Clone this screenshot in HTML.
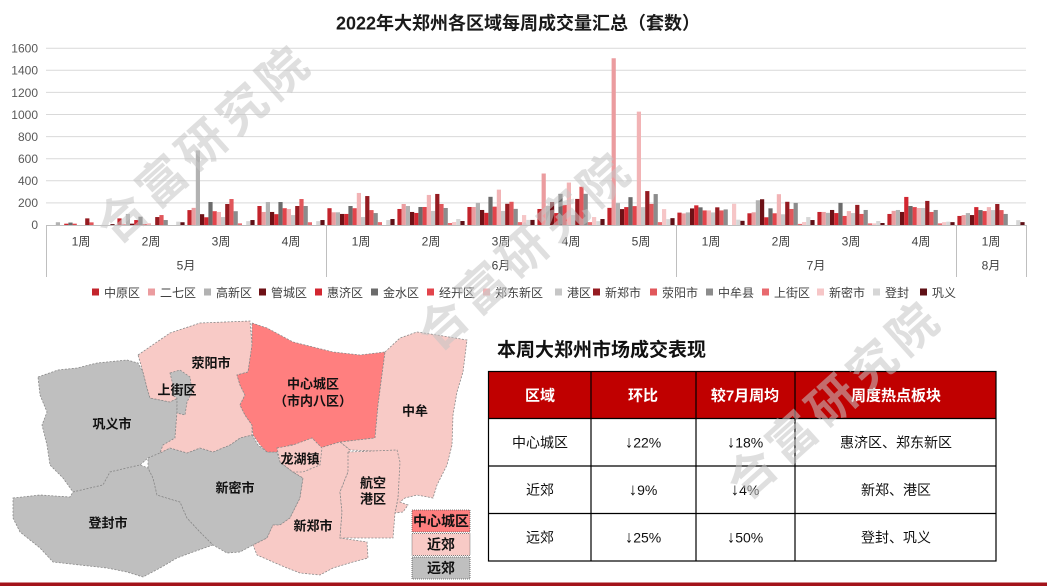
<!DOCTYPE html>
<html><head><meta charset="utf-8"><style>
html,body{margin:0;padding:0;background:#fff;}
svg{display:block;}
text{font-family:"Liberation Sans","Noto Sans CJK SC",sans-serif;}
.yl{font-size:12px;fill:#595959;text-anchor:end;}
.xl{font-size:12px;fill:#404040;text-anchor:middle;}
.lg{font-size:12px;fill:#404040;}
.ml{font-size:13px;font-weight:bold;fill:#111;text-anchor:middle;}
.th{font-size:15px;font-weight:bold;fill:#fff;text-anchor:middle;}
.td{font-size:14px;fill:#111;text-anchor:middle;}
.ar{font-size:17px;font-weight:bold;}
.wm{font-size:48px;font-weight:bold;fill:#c4c4c4;fill-opacity:0.55;text-anchor:middle;letter-spacing:6px;font-family:"Noto Sans CJK SC","WenQuanYi Zen Hei",sans-serif;}
.c0{fill:#c3242c}.c1{fill:#eb9c9f}.c2{fill:#b2b2b2}.c3{fill:#6e1116}.c4{fill:#d22630}.c5{fill:#6b6b6b}.c6{fill:#e2444b}.c7{fill:#f2b3b5}
.c8{fill:#c6c6c6}.c9{fill:#951b21}.c10{fill:#e1575b}.c11{fill:#8c8c8c}.c12{fill:#e8696e}.c13{fill:#f6c6c7}.c14{fill:#d6d6d6}.c15{fill:#5f1016}
.reg{stroke:#8a8a8a;stroke-width:0.8;stroke-dasharray:2,1.5;}
</style></head><body>
<svg width="1047" height="586" viewBox="0 0 1047 586" xmlns="http://www.w3.org/2000/svg">
<rect width="1047" height="586" fill="#fff"/>
<text x="518" y="29.5" font-size="18" font-weight="bold" fill="#1a1a1a" text-anchor="middle">2022年大郑州各区域每周成交量汇总（套数）</text>
<g stroke="#d9d9d9" stroke-width="1">
<line x1="46" x2="1026" y1="202.9" y2="202.9"/><line x1="46" x2="1026" y1="180.8" y2="180.8"/>
<line x1="46" x2="1026" y1="158.7" y2="158.7"/><line x1="46" x2="1026" y1="136.6" y2="136.6"/>
<line x1="46" x2="1026" y1="114.5" y2="114.5"/><line x1="46" x2="1026" y1="92.4" y2="92.4"/>
<line x1="46" x2="1026" y1="70.3" y2="70.3"/><line x1="46" x2="1026" y1="48.2" y2="48.2"/>
</g>
<g class="yl">
<text x="38" y="229">0</text><text x="38" y="207">200</text><text x="38" y="185">400</text><text x="38" y="163">600</text>
<text x="38" y="141">800</text><text x="38" y="119">1000</text><text x="38" y="97">1200</text><text x="38" y="74.5">1400</text><text x="38" y="52.5">1600</text>
</g>
<g class="c0" transform="translate(47.4,225) scale(1,-0.1105)"><rect x="70" width="4.2" height="60"/><rect x="140" width="4.2" height="135"/><rect x="210" width="4.2" height="172"/><rect x="280" width="4.2" height="152"/><rect x="350" width="4.2" height="145"/><rect x="420" width="4.2" height="163"/><rect x="490" width="4.2" height="145"/><rect x="560" width="4.2" height="155"/><rect x="630" width="4.2" height="112"/><rect x="700" width="4.2" height="106"/><rect x="770" width="4.2" height="118"/><rect x="840" width="4.2" height="100"/><rect x="910" width="4.2" height="82"/></g>
<g class="c1" transform="translate(51.6,225) scale(1,-0.1105)"><rect x="70" width="4.2" height="10"/><rect x="140" width="4.2" height="155"/><rect x="210" width="4.2" height="118"/><rect x="280" width="4.2" height="115"/><rect x="350" width="4.2" height="190"/><rect x="420" width="4.2" height="163"/><rect x="490" width="4.2" height="466"/><rect x="560" width="4.2" height="1509"/><rect x="630" width="4.2" height="105"/><rect x="700" width="4.2" height="115"/><rect x="770" width="4.2" height="118"/><rect x="840" width="4.2" height="128"/><rect x="910" width="4.2" height="90"/></g>
<g class="c2" transform="translate(55.8,225) scale(1,-0.1105)"><rect x="0" width="4.2" height="25"/><rect x="70" width="4.2" height="100"/><rect x="140" width="4.2" height="675"/><rect x="210" width="4.2" height="208"/><rect x="280" width="4.2" height="115"/><rect x="350" width="4.2" height="172"/><rect x="420" width="4.2" height="200"/><rect x="490" width="4.2" height="172"/><rect x="560" width="4.2" height="198"/><rect x="630" width="4.2" height="114"/><rect x="700" width="4.2" height="224"/><rect x="770" width="4.2" height="110"/><rect x="840" width="4.2" height="136"/><rect x="910" width="4.2" height="108"/></g>
<g class="c3" transform="translate(60,225) scale(1,-0.1105)"><rect x="70" width="4.2" height="12"/><rect x="140" width="4.2" height="98"/><rect x="210" width="4.2" height="118"/><rect x="280" width="4.2" height="100"/><rect x="350" width="4.2" height="118"/><rect x="420" width="4.2" height="136"/><rect x="490" width="4.2" height="208"/><rect x="560" width="4.2" height="144"/><rect x="630" width="4.2" height="150"/><rect x="700" width="4.2" height="233"/><rect x="770" width="4.2" height="136"/><rect x="840" width="4.2" height="118"/><rect x="910" width="4.2" height="90"/></g>
<g class="c4" transform="translate(64.2,225) scale(1,-0.1105)"><rect x="0" width="4.2" height="12"/><rect x="70" width="4.2" height="45"/><rect x="140" width="4.2" height="70"/><rect x="210" width="4.2" height="98"/><rect x="280" width="4.2" height="100"/><rect x="350" width="4.2" height="109"/><rect x="420" width="4.2" height="110"/><rect x="490" width="4.2" height="108"/><rect x="560" width="4.2" height="162"/><rect x="630" width="4.2" height="178"/><rect x="700" width="4.2" height="70"/><rect x="770" width="4.2" height="108"/><rect x="840" width="4.2" height="254"/><rect x="910" width="4.2" height="162"/></g>
<g class="c5" transform="translate(68.4,225) scale(1,-0.1105)"><rect x="0" width="4.2" height="22"/><rect x="70" width="4.2" height="75"/><rect x="140" width="4.2" height="208"/><rect x="210" width="4.2" height="208"/><rect x="280" width="4.2" height="172"/><rect x="350" width="4.2" height="163"/><rect x="420" width="4.2" height="255"/><rect x="490" width="4.2" height="282"/><rect x="560" width="4.2" height="252"/><rect x="630" width="4.2" height="160"/><rect x="700" width="4.2" height="151"/><rect x="770" width="4.2" height="200"/><rect x="840" width="4.2" height="172"/><rect x="910" width="4.2" height="135"/></g>
<g class="c6" transform="translate(72.6,225) scale(1,-0.1105)"><rect x="0" width="4.2" height="12"/><rect x="70" width="4.2" height="8"/><rect x="140" width="4.2" height="125"/><rect x="210" width="4.2" height="152"/><rect x="280" width="4.2" height="152"/><rect x="350" width="4.2" height="163"/><rect x="420" width="4.2" height="166"/><rect x="490" width="4.2" height="182"/><rect x="560" width="4.2" height="171"/><rect x="630" width="4.2" height="132"/><rect x="700" width="4.2" height="106"/><rect x="770" width="4.2" height="82"/><rect x="840" width="4.2" height="162"/><rect x="910" width="4.2" height="126"/></g>
<g class="c7" transform="translate(76.8,225) scale(1,-0.1105)"><rect x="70" width="4.2" height="15"/><rect x="140" width="4.2" height="118"/><rect x="210" width="4.2" height="145"/><rect x="280" width="4.2" height="290"/><rect x="350" width="4.2" height="272"/><rect x="420" width="4.2" height="320"/><rect x="490" width="4.2" height="384"/><rect x="560" width="4.2" height="1026"/><rect x="630" width="4.2" height="132"/><rect x="700" width="4.2" height="279"/><rect x="770" width="4.2" height="126"/><rect x="840" width="4.2" height="154"/><rect x="910" width="4.2" height="162"/></g>
<g class="c8" transform="translate(81,225) scale(1,-0.1105)"><rect x="140" width="4.2" height="72"/><rect x="210" width="4.2" height="90"/><rect x="280" width="4.2" height="72"/><rect x="350" width="4.2" height="127"/><rect x="420" width="4.2" height="127"/><rect x="490" width="4.2" height="90"/><rect x="560" width="4.2" height="162"/><rect x="630" width="4.2" height="114"/><rect x="700" width="4.2" height="97"/><rect x="770" width="4.2" height="108"/><rect x="840" width="4.2" height="154"/><rect x="910" width="4.2" height="135"/></g>
<g class="c9" transform="translate(85.2,225) scale(1,-0.1105)"><rect x="0" width="4.2" height="60"/><rect x="70" width="4.2" height="72"/><rect x="140" width="4.2" height="190"/><rect x="210" width="4.2" height="172"/><rect x="280" width="4.2" height="262"/><rect x="350" width="4.2" height="281"/><rect x="420" width="4.2" height="192"/><rect x="490" width="4.2" height="236"/><rect x="560" width="4.2" height="307"/><rect x="630" width="4.2" height="160"/><rect x="700" width="4.2" height="210"/><rect x="770" width="4.2" height="182"/><rect x="840" width="4.2" height="218"/><rect x="910" width="4.2" height="190"/></g>
<g class="c10" transform="translate(89.4,225) scale(1,-0.1105)"><rect x="0" width="4.2" height="24"/><rect x="70" width="4.2" height="90"/><rect x="140" width="4.2" height="235"/><rect x="210" width="4.2" height="235"/><rect x="280" width="4.2" height="135"/><rect x="350" width="4.2" height="190"/><rect x="420" width="4.2" height="210"/><rect x="490" width="4.2" height="346"/><rect x="560" width="4.2" height="191"/><rect x="630" width="4.2" height="132"/><rect x="700" width="4.2" height="145"/><rect x="770" width="4.2" height="100"/><rect x="840" width="4.2" height="118"/><rect x="910" width="4.2" height="135"/></g>
<g class="c11" transform="translate(93.6,225) scale(1,-0.1105)"><rect x="70" width="4.2" height="45"/><rect x="140" width="4.2" height="125"/><rect x="210" width="4.2" height="172"/><rect x="280" width="4.2" height="108"/><rect x="350" width="4.2" height="154"/><rect x="420" width="4.2" height="146"/><rect x="490" width="4.2" height="282"/><rect x="560" width="4.2" height="280"/><rect x="630" width="4.2" height="141"/><rect x="700" width="4.2" height="200"/><rect x="770" width="4.2" height="136"/><rect x="840" width="4.2" height="136"/><rect x="910" width="4.2" height="100"/></g>
<g class="c12" transform="translate(97.8,225) scale(1,-0.1105)"><rect x="140" width="4.2" height="15"/><rect x="210" width="4.2" height="25"/><rect x="280" width="4.2" height="26"/><rect x="350" width="4.2" height="18"/><rect x="420" width="4.2" height="26"/><rect x="490" width="4.2" height="26"/><rect x="560" width="4.2" height="26"/><rect x="700" width="4.2" height="10"/><rect x="770" width="4.2" height="15"/><rect x="840" width="4.2" height="15"/></g>
<g class="c13" transform="translate(102,225) scale(1,-0.1105)"><rect x="350" width="4.2" height="27"/><rect x="420" width="4.2" height="90"/><rect x="490" width="4.2" height="72"/><rect x="560" width="4.2" height="144"/><rect x="630" width="4.2" height="192"/><rect x="700" width="4.2" height="27"/><rect x="770" width="4.2" height="15"/><rect x="840" width="4.2" height="26"/></g>
<g class="c14" transform="translate(106.2,225) scale(1,-0.1105)"><rect x="70" width="4.2" height="30"/><rect x="140" width="4.2" height="35"/><rect x="210" width="4.2" height="35"/><rect x="280" width="4.2" height="45"/><rect x="350" width="4.2" height="54"/><rect x="420" width="4.2" height="46"/><rect x="490" width="4.2" height="35"/><rect x="560" width="4.2" height="53"/><rect x="630" width="4.2" height="48"/><rect x="700" width="4.2" height="72"/><rect x="770" width="4.2" height="36"/><rect x="840" width="4.2" height="30"/><rect x="910" width="4.2" height="44"/></g>
<g class="c15" transform="translate(110.4,225) scale(1,-0.1105)"><rect x="0" width="4.2" height="8"/><rect x="70" width="4.2" height="25"/><rect x="140" width="4.2" height="45"/><rect x="210" width="4.2" height="45"/><rect x="280" width="4.2" height="54"/><rect x="350" width="4.2" height="36"/><rect x="420" width="4.2" height="46"/><rect x="490" width="4.2" height="54"/><rect x="560" width="4.2" height="62"/><rect x="630" width="4.2" height="38"/><rect x="700" width="4.2" height="45"/><rect x="770" width="4.2" height="18"/><rect x="840" width="4.2" height="26"/><rect x="910" width="4.2" height="26"/></g>
<g stroke="#bfbfbf" stroke-width="1">
<line x1="46" x2="1026" y1="225.5" y2="225.5"/>
<line x1="46.5" x2="46.5" y1="225" y2="277"/><line x1="326.5" x2="326.5" y1="225" y2="277"/>
<line x1="676.5" x2="676.5" y1="225" y2="277"/><line x1="956.5" x2="956.5" y1="225" y2="277"/>
<line x1="1026.5" x2="1026.5" y1="225" y2="277"/>
</g>
<g class="xl">
<text x="81" y="245.5">1周</text><text x="151" y="245.5">2周</text><text x="221" y="245.5">3周</text><text x="291" y="245.5">4周</text>
<text x="361" y="245.5">1周</text><text x="431" y="245.5">2周</text><text x="501" y="245.5">3周</text><text x="571" y="245.5">4周</text><text x="641" y="245.5">5周</text>
<text x="711" y="245.5">1周</text><text x="781" y="245.5">2周</text><text x="851" y="245.5">3周</text><text x="921" y="245.5">4周</text>
<text x="991" y="245.5">1周</text>
<text x="186" y="269.5">5月</text><text x="501" y="269.5">6月</text><text x="816" y="269.5">7月</text><text x="991" y="269.5">8月</text>
</g>
<g>
<rect class="c0" x="92" y="288.5" width="7" height="7"/><text class="lg" x="104" y="297">中原区</text>
<rect class="c1" x="148" y="288.5" width="7" height="7"/><text class="lg" x="160" y="297">二七区</text>
<rect class="c2" x="204" y="288.5" width="7" height="7"/><text class="lg" x="216" y="297">高新区</text>
<rect class="c3" x="259" y="288.5" width="7" height="7"/><text class="lg" x="271" y="297">管城区</text>
<rect class="c4" x="315" y="288.5" width="7" height="7"/><text class="lg" x="327" y="297">惠济区</text>
<rect class="c5" x="371" y="288.5" width="7" height="7"/><text class="lg" x="383" y="297">金水区</text>
<rect class="c6" x="427" y="288.5" width="7" height="7"/><text class="lg" x="439" y="297">经开区</text>
<rect class="c7" x="483" y="288.5" width="7" height="7"/><text class="lg" x="495" y="297">郑东新区</text>
<rect class="c8" x="555" y="288.5" width="7" height="7"/><text class="lg" x="567" y="297">港区</text>
<rect class="c9" x="593" y="288.5" width="7" height="7"/><text class="lg" x="605" y="297">新郑市</text>
<rect class="c10" x="650" y="288.5" width="7" height="7"/><text class="lg" x="662" y="297">荥阳市</text>
<rect class="c11" x="706" y="288.5" width="7" height="7"/><text class="lg" x="718" y="297">中牟县</text>
<rect class="c12" x="762" y="288.5" width="7" height="7"/><text class="lg" x="774" y="297">上街区</text>
<rect class="c13" x="817" y="288.5" width="7" height="7"/><text class="lg" x="829" y="297">新密市</text>
<rect class="c14" x="873" y="288.5" width="7" height="7"/><text class="lg" x="885" y="297">登封</text>
<rect class="c15" x="920" y="288.5" width="7" height="7"/><text class="lg" x="932" y="297">巩义</text>
</g>
<g class="reg">
<polygon fill="#bfbfbf" points="38,377 58,370 77,368 97,363 127,360 138,363 143,372 147,388 150,398 170,402 177,398 177,412 175,438 163,445 160,453 148,458 140,465 127,468 110,472 103,485 90,488 73,492 63,478 50,465 47,445 42,425 47,412 40,395"/>
<polygon fill="#bfbfbf" points="13,498 40,495 70,497 73,492 90,488 103,485 110,472 127,468 140,465 148,468 153,478 157,495 180,502 187,518 200,532 213,545 193,552 177,558 160,568 143,577 127,572 107,568 80,565 53,562 40,548 20,532 13,518"/>
<polygon fill="#bfbfbf" points="148,458 160,453 170,448 187,453 200,448 213,452 230,445 240,438 252,435 258,445 267,452 277,452 280,462 293,472 303,478 300,498 290,518 280,525 273,525 267,538 253,545 240,552 227,553 213,545 200,532 187,518 180,502 157,495 153,478 148,468"/>
<polygon fill="#f8cac6" points="138,355 170,333 200,323 250,321 252,345 248,372 237,375 240,385 245,395 240,405 245,415 252,425 252,435 240,438 230,445 213,452 200,448 187,453 170,448 160,453 163,445 175,438 177,412 178,398 170,402 150,398 147,388 143,372"/>
<polygon fill="#bfbfbf" points="170,373 180,370 190,377 192,392 187,402 185,415 177,413 177,398 172,395 173,385"/>
<polygon fill="#ff7f7f" points="252,323 267,328 293,342 333,352 360,355 385,352 378,405 375,438 340,442 320,448 312,438 300,445 290,445 280,452 267,452 260,445 253,435 252,425 245,415 240,405 245,395 240,385 237,375 248,372 252,345"/>
<polygon fill="#f8cac6" points="385,352 400,338 417,332 437,335 467,340 463,372 457,392 453,415 452,445 447,465 437,485 433,498 417,495 405,498 400,502 408,505 403,512 395,513 398,498 398,465 397,452 350,450 340,442 375,438 378,405"/>
<polygon fill="#f8cac6" points="320,448 340,442 350,450 348,472 340,492 342,512 340,538 367,542 368,558 353,562 333,568 320,575 300,573 287,568 273,562 257,555 253,545 267,538 273,525 280,525 290,518 300,498 303,478 293,472 280,462 280,452 290,445 300,445 312,438"/>
<polygon fill="#f8cac6" points="348,452 397,450 400,462 398,498 395,513 393,538 340,538 342,512 340,492 348,472"/>
<polygon fill="#f8cac6" points="277,448 293,445 312,438 322,448 320,465 303,472 293,472 280,462"/>
</g>
<g class="ml">
<text x="211" y="367.5">荥阳市</text>
<text x="177" y="394.5">上街区</text>
<text x="112" y="428.5">巩义市</text>
<text x="313" y="388.5">中心城区</text>
<text x="313" y="405.5">（市内八区）</text>
<text x="415" y="415.5">中牟</text>
<text x="300" y="463.5">龙湖镇</text>
<text x="373" y="487.5">航空</text>
<text x="373" y="503.5">港区</text>
<text x="235" y="492.5">新密市</text>
<text x="108" y="527.5">登封市</text>
<text x="313" y="530.5">新郑市</text>
</g>
<g stroke="#555" stroke-width="0.8" stroke-dasharray="1,1">
<rect x="412" y="510" width="58" height="22" fill="#ff7f7f"/>
<rect x="412" y="533.5" width="58" height="22" fill="#f8cac6"/>
<rect x="412" y="557" width="58" height="22" fill="#bfbfbf"/>
</g>
<g font-size="14" font-weight="bold" fill="#111" text-anchor="middle">
<text x="441" y="526">中心城区</text>
<text x="441" y="549.5">近郊</text>
<text x="441" y="573">远郊</text>
</g>
<text x="497" y="356" font-size="19" font-weight="bold" fill="#111">本周大郑州市场成交表现</text>
<rect x="488.5" y="371.5" width="507.5" height="47" fill="#c00000"/>
<g stroke="#000" stroke-width="1.2" fill="none">
<rect x="488.5" y="371.5" width="507.5" height="189.5"/>
<line x1="488.5" x2="996" y1="418.5" y2="418.5"/>
<line x1="488.5" x2="996" y1="466" y2="466"/>
<line x1="488.5" x2="996" y1="513.5" y2="513.5"/>
<line x1="591" x2="591" y1="371.5" y2="561"/>
<line x1="696" x2="696" y1="371.5" y2="561"/>
<line x1="795" x2="795" y1="371.5" y2="561"/>
</g>
<g class="th">
<text x="540" y="400.5">区域</text><text x="643" y="400.5">环比</text><text x="745" y="400.5">较7月周均</text><text x="896" y="400.5">周度热点板块</text>
</g>
<g class="td">
<text x="540" y="447.5">中心城区</text><text x="643" y="447.5"><tspan class="ar">↓</tspan>22%</text><text x="745" y="447.5"><tspan class="ar">↓</tspan>18%</text><text x="896" y="447.5">惠济区、郑东新区</text>
<text x="540" y="495">近郊</text><text x="643" y="495"><tspan class="ar">↓</tspan>9%</text><text x="745" y="495"><tspan class="ar">↓</tspan>4%</text><text x="896" y="495">新郑、港区</text>
<text x="540" y="542.5">远郊</text><text x="643" y="542.5"><tspan class="ar">↓</tspan>25%</text><text x="745" y="542.5"><tspan class="ar">↓</tspan>50%</text><text x="896" y="542.5">登封、巩义</text>
</g>
<rect x="0" y="582.5" width="1047" height="3.5" fill="#a3131a"/>
<text class="wm" x="205" y="160" transform="rotate(-42 205 144)">合富研究院</text>
<text class="wm" x="526" y="267" transform="rotate(-42 526 251)">合富研究院</text>
<text class="wm" x="835" y="416" transform="rotate(-42 835 400)">合富研究院</text>
</svg>
</body></html>
